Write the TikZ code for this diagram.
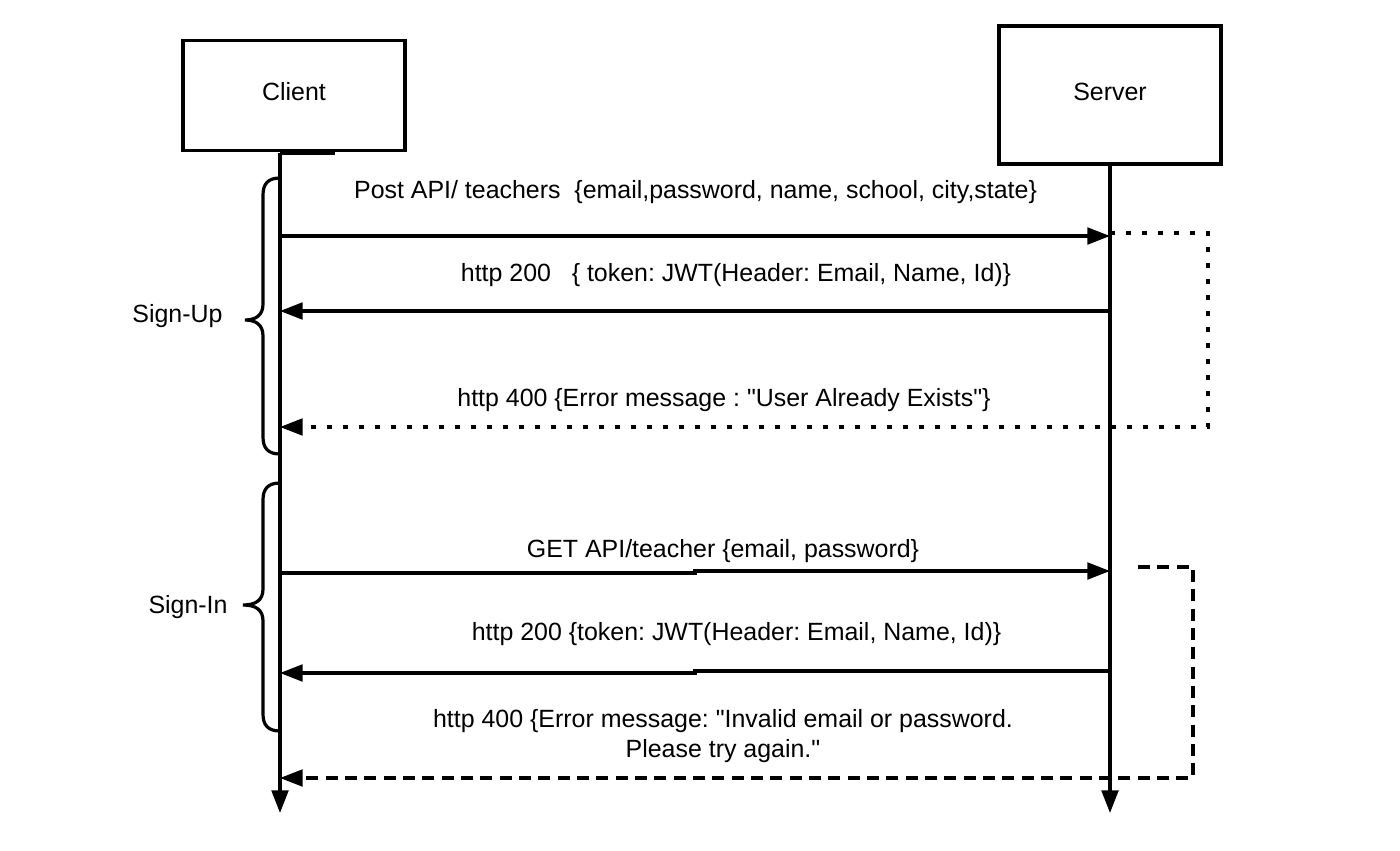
\documentclass[tikz,border=0pt]{standalone}
\usepackage{fontspec}
\setmainfont{Liberation Sans}[Ligatures=TeXOff]
\usetikzlibrary{arrows.meta, positioning, calc}
\frenchspacing

\begin{document}
\begin{tikzpicture}[x=0.75pt, y=-0.75pt, line join=miter,
    wire/.style={line width=2.4pt},
    dotwire/.style={line width=2.4pt, dash pattern=on 3.5pt off 8.5pt},
    dashwire/.style={line width=2.4pt, dash pattern=on 9pt off 5.5pt},
    lbl/.style={font=\fontsize{18.7}{22.5}\selectfont, inner sep=0pt, anchor=base},
    actor/.style={draw, line width=2.4pt, minimum width=166.5pt, inner sep=0pt,
      font=\fontsize{18.7}{22.5}\selectfont, text height=13.5pt, text depth=5.5pt},
    >={Triangle[length=17pt, width=12.5pt]}]
  \useasboundingbox (0,0) rectangle (1400,850);
  % --- actors and lifelines --------------------------------------------
  \node[actor, minimum height=83pt] (client) at (294,95.5) {Client};
  \node[actor, minimum height=103.5pt] (server) at (1110,95) {Server};
  \coordinate (cTop) at (280,153);
  \coordinate (cTick) at (335,153);
  \coordinate (cEnd) at (280,813);
  \coordinate (sEnd) at (1110,813);
  \draw[wire] (cTick) -- (cTop);
  \draw[wire, ->] (cTop) -- (cEnd);
  \draw[wire, ->] (server.south) -- (sEnd);
  % --- sign-up messages --------------------------------------------------
  \coordinate (upReqC) at (280,236);
  \coordinate (upReqS) at (1110,236);
  \draw[wire, ->] (upReqC) -- (upReqS);
  \node[lbl] (upReq) at (695.5,198)
    {Post API/ teachers\ \ {\{}email,password, name, school, city,state{\}}};
  \coordinate (upOkS) at (1110,311);
  \coordinate (upOkC) at (280,311);
  \draw[wire, ->] (upOkS) -- (upOkC);
  \node[lbl] (upOk) at (736,281)
    {http 200\ \ \ {\{} token: JWT(Header: Email, Name, Id){\}}};
  \coordinate (upErrS) at (1110,233);
  \coordinate (upErrC) at (280,427);
  \draw[dotwire, ->] (upErrS) -- (1208,233) -- (1208,427) -- (upErrC);
  \node[lbl] (upErr) at (724,406)
    {http 400 {\{}Error message : "User Already Exists"{\}}};
  % --- sign-in messages --------------------------------------------------
  \coordinate (inReqC) at (280,573);
  \coordinate (inReqS) at (1110,571);
  \draw[wire, ->] (inReqC) -- (695,573) -- (695,571) -- (inReqS);
  \node[lbl] (inReq) at (723,557) {GET API/teacher {\{}email, password{\}}};
  \coordinate (inOkS) at (1110,671);
  \coordinate (inOkC) at (280,673);
  \draw[wire, ->] (inOkS) -- (695,671) -- (695,673) -- (inOkC);
  \node[lbl] (inOk) at (736.5,640)
    {http 200 {\{}token: JWT(Header: Email, Name, Id){\}}};
  \coordinate (inErrS) at (1138,567);
  \coordinate (inErrC) at (280,778);
  \draw[dashwire, ->] (inErrS) -- (1193,567) -- (1193,778) -- (inErrC);
  \node[lbl, anchor=center, align=center] (inErr) at (723,736.5)
    {http 400 {\{}Error message: "Invalid email or password.\\
     Please try again."};
  % --- phase braces -------------------------------------------------------
  \draw[wire] (280,178) .. controls (268,178) and (263,184) .. (263,195)
    -- (263,304) .. controls (263,315) and (256,320) .. (245,320)
    .. controls (256,320) and (263,325) .. (263,336)
    -- (263,437) .. controls (263,448) and (268,454) .. (280,454);
  \node[lbl] (signUp) at (177.5,322) {Sign-Up};
  \draw[wire] (280,483) .. controls (268,483) and (263,489) .. (263,500)
    -- (263,589) .. controls (263,600) and (256,605) .. (243,605)
    .. controls (256,605) and (263,610) .. (263,621)
    -- (263,714) .. controls (263,725) and (268,731) .. (280,731);
  \node[lbl] (signIn) at (188,613) {Sign-In};
\end{tikzpicture}
\end{document}
